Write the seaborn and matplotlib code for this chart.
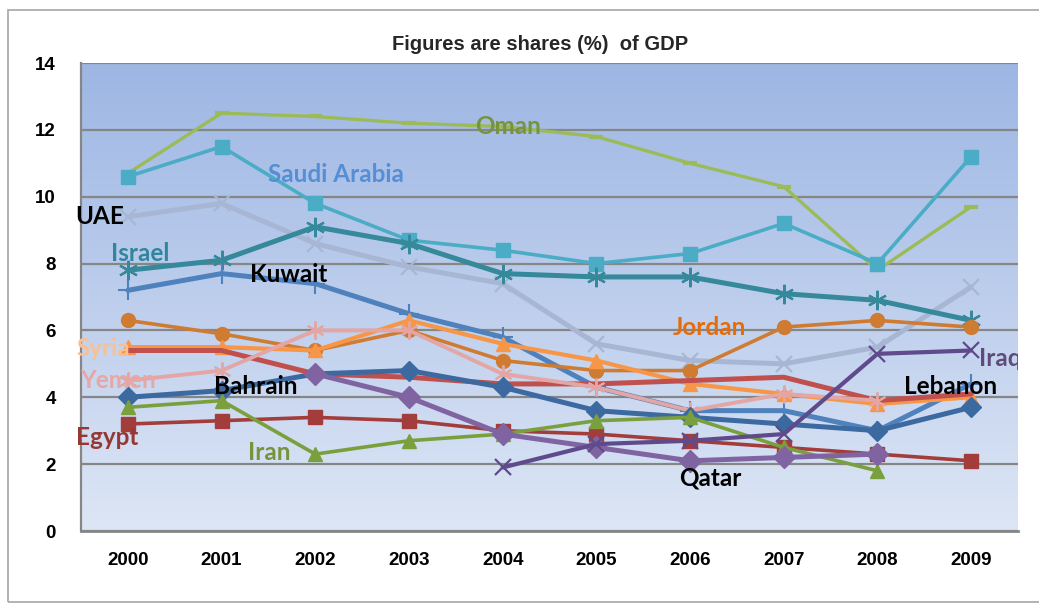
import numpy as np
import pandas as pd
import matplotlib
matplotlib.use("Agg")
import matplotlib.pyplot as plt
import seaborn as sns
from matplotlib.colors import LinearSegmentedColormap
from matplotlib.patches import Rectangle

# Shares (%) of GDP by country, 2000-2009
years = list(range(2000, 2010))
nan = np.nan
oman = [10.7, 12.5, 12.4, 12.2, 12.1, 11.8, 11.0, 10.3, 7.8, 9.7]
saudi_arabia = [10.6, 11.5, 9.8, 8.7, 8.4, 8.0, 8.3, 9.2, 8.0, 11.2]
uae = [9.4, 9.8, 8.6, 7.9, 7.4, 5.6, 5.1, 5.0, 5.5, 7.3]
israel = [7.8, 8.1, 9.1, 8.6, 7.7, 7.6, 7.6, 7.1, 6.9, 6.3]
kuwait = [7.2, 7.7, 7.4, 6.5, 5.8, 4.3, 3.6, 3.6, 3.0, 4.4]
jordan = [6.3, 5.9, 5.4, 6.0, 5.1, 4.8, 4.8, 6.1, 6.3, 6.1]
syria = [5.5, 5.5, 5.4, 6.3, 5.6, 5.1, 4.4, 4.1, 3.8, 4.0]
lebanon = [5.4, 5.4, 4.7, 4.6, 4.4, 4.4, 4.5, 4.6, 3.9, 4.1]
yemen = [4.5, 4.8, 6.0, 6.0, 4.7, 4.3, 3.6, 4.1, 3.9, nan]
bahrain = [4.0, 4.2, 4.7, 4.8, 4.3, 3.6, 3.4, 3.2, 3.0, 3.7]
egypt = [3.2, 3.3, 3.4, 3.3, 3.0, 2.9, 2.7, 2.5, 2.3, 2.1]
iran = [3.7, 3.9, 2.3, 2.7, 2.9, 3.3, 3.4, 2.5, 1.8, nan]
qatar = [nan, nan, 4.7, 4.0, 2.9, 2.5, 2.1, 2.2, 2.3, nan]
iraq = [nan, nan, nan, nan, 1.9, 2.6, 2.7, 2.9, 5.3, 5.4]

y_ticks = [0, 2, 4, 6, 8, 10, 12, 14]
title = "Figures are shares (%)  of GDP"

series = {
    "Oman": oman, "Saudi Arabia": saudi_arabia, "UAE": uae, "Israel": israel,
    "Kuwait": kuwait, "Jordan": jordan, "Syria": syria, "Lebanon": lebanon,
    "Yemen": yemen, "Bahrain": bahrain, "Egypt": egypt, "Iran": iran,
    "Qatar": qatar, "Iraq": iraq,
}
df = pd.DataFrame(
    [(c, y, v) for c, vals in series.items() for y, v in zip(years, vals)],
    columns=["country", "year", "share"],
)

asterisk = (6, 2, 0)
# color, marker, marker size, line width, marker edge width
styles = {
    "Oman":         ("#9BBB59", "_", 10, 2.4, 3.0),
    "Saudi Arabia": ("#4BACC6", "s", 10.5, 2.6, 1.0),
    "UAE":          ("#A7B7D3", "x", 12, 3.6, 1.6),
    "Israel":       ("#35899B", asterisk, 14, 3.6, 1.6),
    "Kuwait":       ("#4F81BD", "+", 14, 3.6, 1.5),
    "Jordan":       ("#CF7B32", "o", 10, 2.6, 1.0),
    "Syria":        ("#F79646", "^", 10.5, 3.0, 1.0),
    "Lebanon":      ("#C0504D", None, 0, 3.6, 1.0),
    "Yemen":        ("#E3A6A4", asterisk, 13, 2.8, 1.4),
    "Bahrain":      ("#3C69A0", "D", 10, 3.6, 1.0),
    "Egypt":        ("#A33D3B", "s", 10.5, 2.6, 1.0),
    "Iran":         ("#7AA03E", "^", 10.5, 2.6, 1.0),
    "Qatar":        ("#8064A2", "D", 11, 3.6, 1.0),
    "Iraq":         ("#5F4A8B", "x", 12, 3.0, 1.6),
}

# label text, x, y, color
labels = [
    ("Oman", 2004.06, 12.11, "#77933C"),
    ("Saudi Arabia", 2002.22, 10.65, "#558ED5"),
    ("UAE", 1999.70, 9.42, "#000000"),
    ("Israel", 2000.13, 8.29, "#31859C"),
    ("Kuwait", 2001.72, 7.66, "#000000"),
    ("Jordan", 2006.21, 6.10, "#E46C0A"),
    ("Syria", 1999.74, 5.47, "#FAC090"),
    ("Yemen", 1999.90, 4.49, "#E6A7A5"),
    ("Bahrain", 2001.37, 4.31, "#000000"),
    ("Egypt", 1999.78, 2.81, "#953735"),
    ("Iran", 2001.51, 2.36, "#77933C"),
    ("Qatar", 2006.22, 1.59, "#000000"),
    ("Iraq", 2009.31, 5.17, "#604A7B"),
    ("Lebanon", 2008.78, 4.31, "#000000"),
]

sns.set_style("white")
plt.rcParams["font.family"] = ["Liberation Sans", "DejaVu Sans"]

W, H = 1039, 605
fig = plt.figure(figsize=(W / 100, H / 100), dpi=100)
ax = fig.add_axes([81 / W, 1 - 531 / H, (1018 - 81) / W, (531 - 63) / H])

ax.set_xlim(1999.5, 2009.5)
ax.set_ylim(0, 14)

# vertical blue gradient behind the plot
cmap = LinearSegmentedColormap.from_list("bg", ["#DDE6F5", "#9DB6E4"])
ax.imshow(np.linspace(0, 1, 256).reshape(-1, 1), cmap=cmap, origin="lower",
          extent=[1999.5, 2009.5, 0, 14], aspect="auto", zorder=0)

for name in series:
    color, marker, ms, lw, mew = styles[name]
    sub = df[df["country"] == name].dropna()
    sns.lineplot(data=sub, x="year", y="share", ax=ax, color=color, lw=lw,
                 marker=marker, markersize=ms, markeredgewidth=mew,
                 markeredgecolor=color, markerfacecolor=color, zorder=3,
                 legend=False, errorbar=None, estimator=None)

for text, x, y, color in labels:
    ax.text(x, y, text, color=color, fontsize=17.5, fontweight="bold",
            family=["Lato", "DejaVu Sans"], ha="center", va="center",
            zorder=6, clip_on=(text == "Iraq"))

ax.set_xticks(years)
ax.set_xticklabels([str(y) for y in years])
ax.set_yticks(y_ticks)
ax.set_yticklabels([str(t) for t in y_ticks])
ax.set_xlabel("")
ax.set_ylabel("")
ax.tick_params(axis="both", length=0, labelsize=13.5, colors="black")
ax.tick_params(axis="y", pad=18)
ax.tick_params(axis="x", pad=15)
for lab in ax.get_xticklabels() + ax.get_yticklabels():
    lab.set_fontweight("bold")

ax.set_axisbelow(True)
ax.grid(axis="y", color="#868686", lw=1.6)
ax.grid(axis="x", visible=False)
for side in ("top", "right"):
    ax.spines[side].set_visible(False)
ax.spines["left"].set_color("#868686")
ax.spines["left"].set_linewidth(1.6)
ax.spines["bottom"].set_color("#868686")
ax.spines["bottom"].set_linewidth(2.0)

fig.text(540 / W, 1 - 45 / H, title, ha="center", va="center",
         fontsize=14.5, fontweight="bold")

# outer chart frame
fig.patches.append(Rectangle((8 / W, 3 / H), 2, (602 - 10) / H,
                             transform=fig.transFigure, fill=False,
                             edgecolor="#A6A6A6", lw=1.2))

fig.savefig("out.png", dpi=100)
